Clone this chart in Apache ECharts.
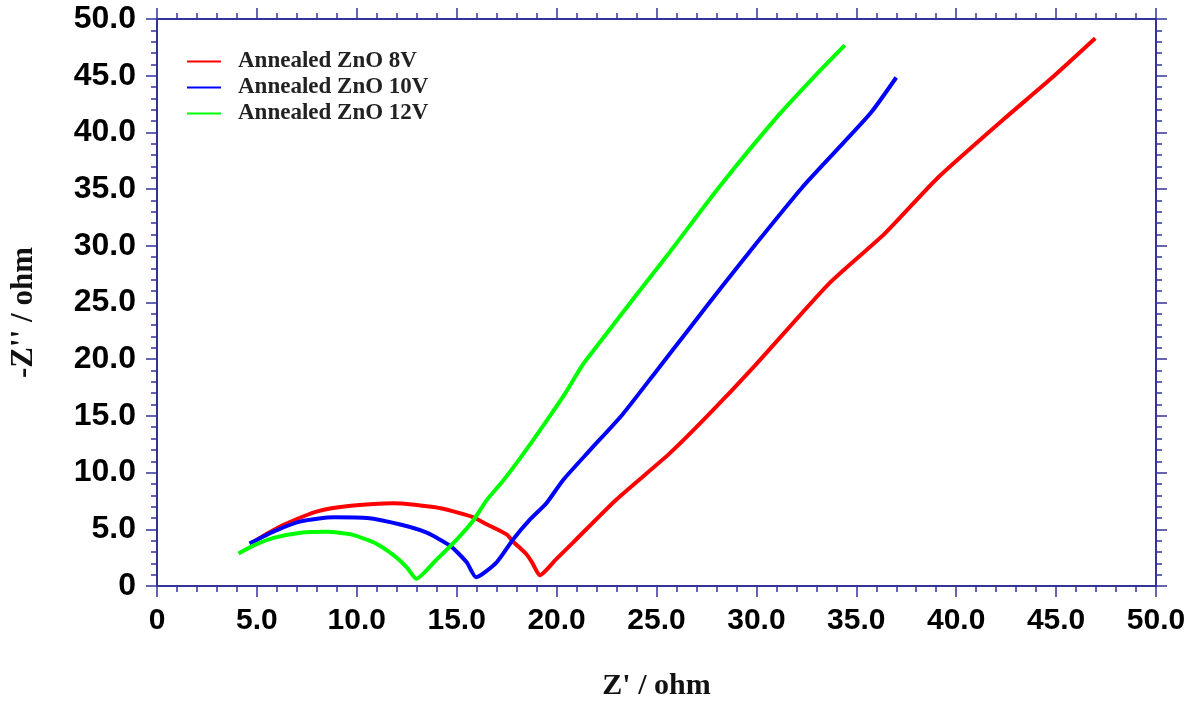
<!DOCTYPE html>
<html>
<head>
<meta charset="utf-8">
<script src="https://cdn.jsdelivr.net/npm/echarts@6/dist/echarts.min.js"></script>
<style>
html,body{margin:0;padding:0;background:#fff;}
#chart{width:1196px;height:706px;}
</style>
</head>
<body>
<div id="chart"></div>
<script>
// Series names
const seriesNames = ['Annealed ZnO 8V', 'Annealed ZnO 10V', 'Annealed ZnO 12V'];

// Annealed ZnO 8V (red): Z' and -Z''
const red_x = [4.75, 5.5, 6.37, 8.03, 9.7, 11.85, 13.84, 14.84, 15.84, 16.5, 17.5, 17.83, 18.49, 18.8, 19.16,
  19.98, 20.82, 22.97, 25.63, 27.62, 29.95, 33.6, 36.42, 39.08, 42.4, 44.72, 46.96];
const red_y = [3.78, 4.6, 5.42, 6.58, 7.07, 7.3, 6.96, 6.58, 6.05, 5.45, 4.55, 3.9, 2.8, 2.0, 0.95,
  2.37, 3.83, 7.59, 11.65, 15.13, 19.48, 26.6, 31.07, 36.0, 41.2, 44.7, 48.3];

// Annealed ZnO 10V (blue)
const blue_x = [4.63, 5.88, 7.2, 8.86, 10.52, 12.18, 13.5, 14.68, 15.5, 15.97,
  17.0, 17.83, 18.66, 19.49, 20.32, 21.65, 23.3, 24.97, 26.63, 28.29, 29.9, 32.27, 34.26, 35.76, 37.0];
const blue_y = [3.74, 4.84, 5.7, 6.06, 6.0, 5.42, 4.7, 3.54, 2.09, 0.78,
  2.09, 4.12, 5.85, 7.3, 9.33, 11.94, 15.13, 18.9, 22.67, 26.43, 30.0, 35.1, 38.9, 41.8, 44.84];

// Annealed ZnO 12V (green)
const green_x = [4.08, 4.88, 5.88, 7.2, 8.52, 9.7, 10.86, 11.85, 12.5, 12.98,
  14.0, 15.0, 15.84, 16.5, 17.33, 18.33, 19.47, 20.47, 21.3, 22.3, 23.96, 25.6, 28.1, 31.1, 33.1, 34.43];
const green_y = [2.87, 3.6, 4.26, 4.7, 4.78, 4.55, 3.83, 2.7, 1.65, 0.64,
  2.35, 4.1, 5.8, 7.57, 9.3, 11.65, 14.5, 17.1, 19.5, 21.8, 25.6, 29.3, 35.1, 41.5, 45.3, 47.7];

// Axis ticks
const xTicks = {min: 0, max: 50, interval: 5};
const yTicks = {min: 0, max: 50, interval: 5};

const colors = ['#ff0000', '#0000ff', '#00ff00'];
const axisColor = '#333399';

function pairs(xs, ys) { return xs.map((x, i) => [x, ys[i]]); }
const fmt = v => (v === 0 ? '0' : v.toFixed(1));

const chart = echarts.init(document.getElementById('chart'));

const labelFont = {
  fontFamily: '"Liberation Sans", Arial, sans-serif',
  fontWeight: 'bold',
  color: '#000'
};
const nameStyle = {
  fontFamily: '"Liberation Serif", "Times New Roman", serif',
  fontWeight: 'bold',
  fontSize: 30,
  color: '#111'
};

function axisBase(extra) {
  return Object.assign({
    type: 'value',
    axisLine: {show: true, onZero: false, lineStyle: {color: axisColor, width: 2}},
    axisTick: {show: true, inside: false, length: 11, lineStyle: {color: axisColor, width: 1.5}},
    minorTick: {show: true, splitNumber: 5, length: 6, lineStyle: {color: axisColor, width: 1.5}},
    splitLine: {show: false},
    minorSplitLine: {show: false}
  }, extra);
}

const option = {
  backgroundColor: '#fff',
  animation: false,
  grid: {left: 152, right: 40, top: 19, bottom: 112, containLabel: false},
  legend: {
    orient: 'vertical',
    left: 187,
    top: 50,
    padding: 0,
    itemWidth: 34,
    itemHeight: 14,
    itemGap: 3,
    icon: 'path://M0,6 L34,6 L34,8 L0,8 Z',
    textStyle: {
      fontFamily: '"Liberation Serif", "Times New Roman", serif',
      fontWeight: 'bold',
      fontSize: 23,
      lineHeight: 23,
      color: '#222',
      padding: [0, 0, 0, 12]
    },
    data: seriesNames
  },
  xAxis: [
    axisBase({
      position: 'bottom',
      min: xTicks.min, max: xTicks.max, interval: xTicks.interval,
      axisLabel: Object.assign({margin: 20, fontSize: 30, formatter: fmt}, labelFont),
      name: "Z' / ohm",
      nameLocation: 'middle',
      nameGap: 85,
      nameTextStyle: nameStyle
    }),
    axisBase({
      position: 'top',
      min: xTicks.min, max: xTicks.max, interval: xTicks.interval,
      axisLabel: {show: false}
    })
  ],
  yAxis: [
    axisBase({
      position: 'left',
      min: yTicks.min, max: yTicks.max, interval: yTicks.interval,
      axisLabel: Object.assign({margin: 21, fontSize: 32, formatter: fmt}, labelFont),
      name: "-Z'' / ohm",
      nameLocation: 'middle',
      nameGap: 118,
      nameRotate: 90,
      nameTextStyle: Object.assign({padding: [0, 20, 0, 0]}, nameStyle, {fontSize: 31})
    }),
    axisBase({
      position: 'right',
      min: yTicks.min, max: yTicks.max, interval: yTicks.interval,
      axisLabel: {show: false}
    })
  ],
  series: [
    {name: seriesNames[0], data: pairs(red_x, red_y), color: colors[0]},
    {name: seriesNames[1], data: pairs(blue_x, blue_y), color: colors[1]},
    {name: seriesNames[2], data: pairs(green_x, green_y), color: colors[2]}
  ].map(s => ({
    type: 'line',
    name: s.name,
    data: s.data,
    xAxisIndex: 0,
    yAxisIndex: 0,
    showSymbol: false,
    symbol: 'none',
    smooth: 0.2,
    itemStyle: {color: s.color},
    lineStyle: {color: s.color, width: 4},
    z: 3
  }))
};

chart.setOption(option);
</script>
</body>
</html>
